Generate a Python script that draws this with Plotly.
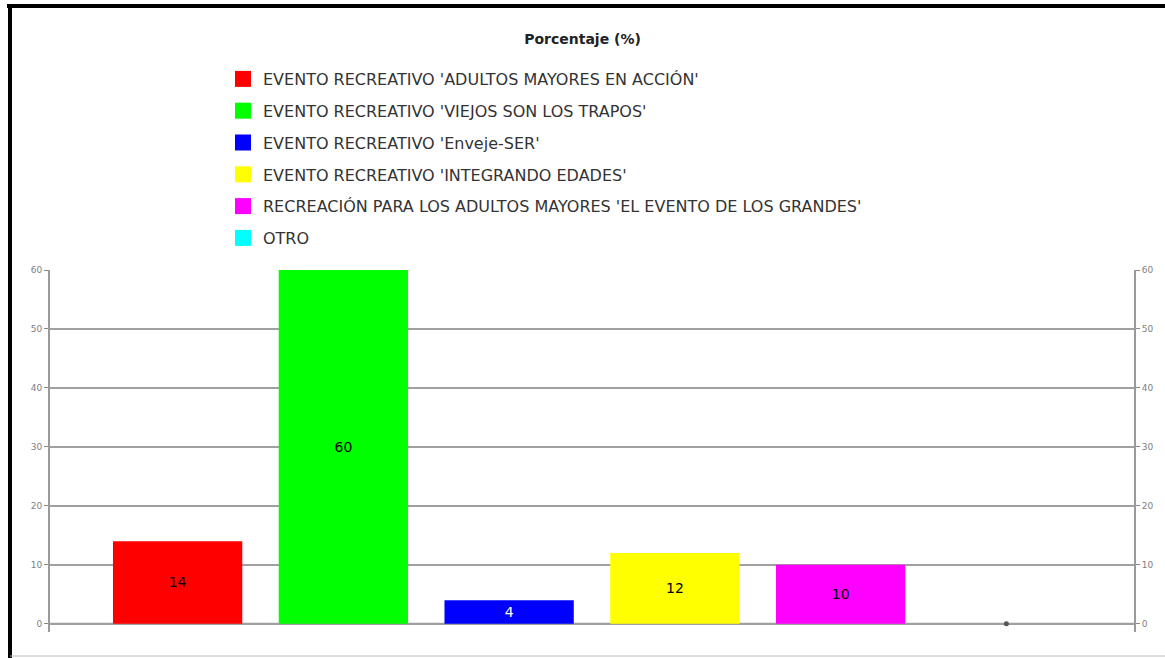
import plotly.graph_objects as go

categories = [
    "EVENTO RECREATIVO 'ADULTOS MAYORES EN ACCIÓN'",
    "EVENTO RECREATIVO 'VIEJOS SON LOS TRAPOS'",
    "EVENTO RECREATIVO 'Enveje-SER'",
    "EVENTO RECREATIVO 'INTEGRANDO EDADES'",
    "RECREACIÓN PARA LOS ADULTOS MAYORES 'EL EVENTO DE LOS GRANDES'",
    "OTRO",
]
values = [14, 60, 4, 12, 10, 0]
colors = ["#ff0000", "#00ff00", "#0000ff", "#ffff00", "#ff00ff", "#00ffff"]
label_colors = ["#000000", "#000000", "#ffffff", "#000000", "#000000", "#000000"]
y_ticks = [0, 10, 20, 30, 40, 50, 60]

FONT = "DejaVu Sans, Verdana, sans-serif"

fig = go.Figure()
for i, (cat, val, col, lc) in enumerate(zip(categories, values, colors, label_colors)):
    if val > 0:
        fig.add_trace(go.Bar(
            x=[i], y=[val], width=0.78, marker=dict(color=col, line=dict(width=0)),
            text=[str(val)], textposition="inside", insidetextanchor="middle",
            textfont=dict(color=lc, size=14, family=FONT),
            showlegend=False, hoverinfo="skip",
        ))
    else:
        fig.add_trace(go.Scatter(
            x=[i], y=[val], mode="markers",
            marker=dict(size=5, color="#555555"), showlegend=False, hoverinfo="skip",
        ))
    # legend entry
    fig.add_trace(go.Scatter(
        x=[None], y=[None], mode="markers", name=cat, legendgroup=f"g{i}",
        marker=dict(symbol="square", size=16, color=col),
    ))

fig.add_trace(go.Scatter(x=[None], y=[None], yaxis="y2", showlegend=False))

W, H = 1165, 658
plot_left, plot_right = 50, 1134
plot_top, plot_bottom = 270, 632
pw = plot_right - plot_left
ph = plot_bottom - plot_top

def px_x(x):
    return (x - plot_left) / pw

def px_y(y):
    return (plot_bottom - y) / ph

yaxis_common = dict(
    range=[-1.4, 60], tickvals=y_ticks, ticks="outside", ticklen=4,
    tickcolor="#888888", tickfont=dict(size=9, color="#808080", family=FONT),
    showline=True, linecolor="#999999", linewidth=2, zeroline=False,
)

fig.update_layout(
    width=W, height=H,
    margin=dict(l=plot_left, r=W - plot_right, t=plot_top, b=H - plot_bottom),
    paper_bgcolor="white", plot_bgcolor="white",
    barmode="overlay",
    font=dict(family=FONT),
    title=dict(text="<b>Porcentaje (%)</b>", x=0.5, xanchor="center",
               y=1 - 39 / H, yanchor="middle",
               font=dict(size=14, color="#222222", family=FONT)),
    xaxis=dict(range=[-0.77, 5.77], showticklabels=False, showgrid=False,
               zeroline=False, showline=False, ticks=""),
    yaxis=dict(**yaxis_common, side="left", showgrid=True,
               gridcolor="#a0a0a0", gridwidth=2),
    yaxis2=dict(**yaxis_common, side="right", overlaying="y", showgrid=False),
    legend=dict(x=px_x(223), y=px_y(62), xanchor="left", yanchor="top",
                font=dict(size=16, color="#333333", family=FONT),
                tracegroupgap=8, itemsizing="trace", bgcolor="rgba(0,0,0,0)"),
    shapes=[
        dict(type="line", xref="paper", yref="paper", x0=px_x(7), x1=px_x(1170),
             y0=px_y(6), y1=px_y(6), line=dict(color="black", width=4)),
        dict(type="line", xref="paper", yref="paper", x0=px_x(10), x1=px_x(10),
             y0=px_y(4), y1=px_y(660), line=dict(color="black", width=4)),
        dict(type="line", xref="paper", yref="paper", x0=px_x(10), x1=px_x(1170),
             y0=px_y(656), y1=px_y(656), line=dict(color="#bbbbbb", width=1)),
        dict(type="line", xref="paper", yref="y", x0=0, x1=1, y0=0, y1=0,
             line=dict(color="#a0a0a0", width=2), layer="below"),
    ],
)

fig.write_html("out.html", config={"displayModeBar": False},
               post_script="document.body.style.margin='0';document.body.style.overflow='hidden';")
